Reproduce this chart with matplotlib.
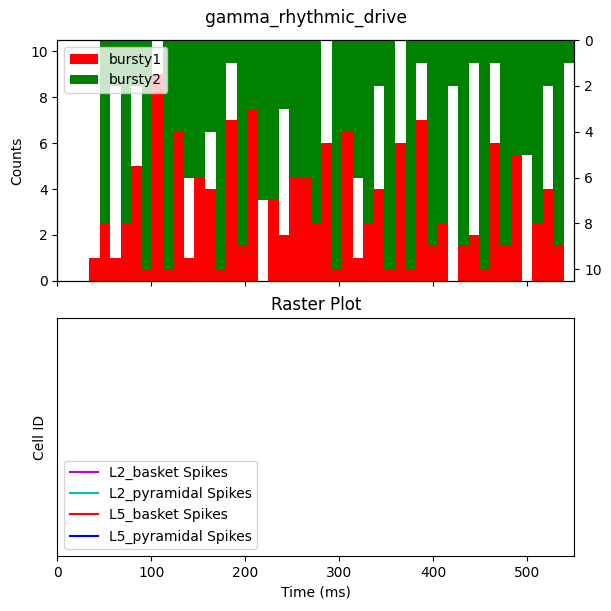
import numpy as np
import matplotlib
matplotlib.use("Agg")
import matplotlib.pyplot as plt
from matplotlib.lines import Line2D

# histogram of drive spikes, 49 bins spanning 0..550 ms
tstop = 550
n_bins = 49
bursty1 = [0, 0, 0, 1.0, 2.5, 1.0, 2.5, 5.0, 0.5, 9.0,
           0.5, 6.5, 1.0, 4.5, 4.0, 0.5, 7.0, 1.5, 7.5, 0,
           3.5, 2.0, 4.5, 4.5, 2.5, 6.0, 0.5, 6.5, 1.0, 2.5,
           4.0, 0.5, 6.0, 0.5, 7.0, 1.5, 2.5, 0, 1.5, 2.0,
           0.5, 6.0, 1.5, 5.5, 0, 2.5, 4.0, 1.5, 0]
bursty2 = [0, 0, 0, 0, 8, 2, 8, 2, 10, 0,
           10, 4, 6, 6, 4, 10, 1, 9, 3, 7,
           7, 3, 6, 6, 8, 0, 10, 4, 6, 8,
           2, 10, 0, 10, 1, 9, 8, 2, 9, 1,
           10, 1, 9, 5, 5, 8, 2, 9, 1]
cell_types = ['L2_basket', 'L2_pyramidal', 'L5_basket', 'L5_pyramidal']
cell_colors = ['m', 'c', 'r', 'b']

edges = np.linspace(0, tstop, n_bins + 1)
width = edges[1] - edges[0]

fig = plt.figure(figsize=(6.11, 6.11), dpi=100)
ax_hist = fig.add_axes([0.0938, 0.5406, 0.8462, 0.3939])
ax_raster = fig.add_axes([0.0938, 0.0900, 0.8462, 0.3890], sharex=ax_hist)

ax_hist.bar(edges[:-1], bursty1, width=width, align='edge', color='red',
            linewidth=0, label='bursty1')
ax_hist.set_ylim(0, 10.5)
ax_hist.set_ylabel('Counts')
ax_hist.tick_params(labelbottom=False)

ax_twin = ax_hist.twinx()
ax_twin.bar(edges[:-1], bursty2, width=width, align='edge', color='green',
            linewidth=0, label='bursty2')
ax_twin.set_ylim(10.5, 0)

h1, l1 = ax_hist.get_legend_handles_labels()
h2, l2 = ax_twin.get_legend_handles_labels()
ax_twin.legend(h1 + h2, l1 + l2, loc='upper left')

ax_raster.set_xlim(0, tstop)
ax_raster.set_yticks([])
ax_raster.set_ylabel('Cell ID', labelpad=7.5)
ax_raster.set_xlabel('Time (ms)')
ax_raster.set_title('Raster Plot')
handles = [Line2D([0], [0], color=c) for c in cell_colors]
ax_raster.legend(handles, [f'{ct} Spikes' for ct in cell_types], loc='lower left')

fig.suptitle('gamma_rhythmic_drive', y=0.985, fontsize=12.3)
fig.savefig('out.png')
